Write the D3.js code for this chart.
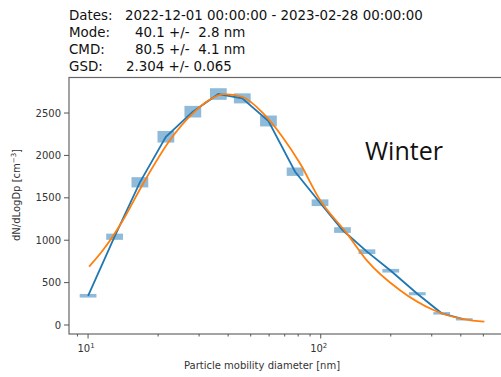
<!DOCTYPE html>
<html>
<head>
<meta charset="utf-8">
<script src="https://cdn.jsdelivr.net/npm/d3@7"></script>
<style>
  body { margin: 0; background: #fff; }
  svg { display: block; font-family: "DejaVu Sans", sans-serif; }
</style>
</head>
<body>
<div id="chart"></div>
<script>
// Measured size distribution (blue) with its spread
var diameters = [10, 13, 16.7, 21.6, 28.2, 36.3, 46, 59.6, 77.6, 99.3, 124, 158, 200, 260, 331, 414];
var counts = [345, 1041, 1683, 2220, 2516, 2724, 2673, 2406, 1808, 1442, 1120, 865, 640, 369, 138, 67];
var spreads = [12, 27, 51, 59, 59, 59, 50, 55, 40, 30, 24, 18, 12, 9, 5, 4];

// Lognormal fit (orange)
var fitDiameters = [10.1, 11.6, 14, 17.3, 22.5, 28.2, 33, 38.5, 45.9, 56.6, 68, 81.4, 99.3, 129.5, 157.4, 218.5, 305, 415, 505];
var fitCounts = [688, 884, 1218, 1675, 2182, 2496, 2650, 2722, 2692, 2496, 2230, 1907, 1474, 1081, 766, 413, 177, 67, 39];

var yTicks = [0, 500, 1000, 1500, 2000, 2500];
var headerLines = [
    ["Dates:", "2022-12-01 00:00:00 - 2023-02-28 00:00:00"],
    ["Mode:", "40.1 +/-  2.8 nm"],
    ["CMD:", "80.5 +/-  4.1 nm"],
    ["GSD:", "2.304 +/- 0.065"]
];
var valueOffsets = [56, 66, 66, 57];

var width = 501;
var height = 377;

// Plot frame (right edge runs past the picture)
var pLeft = 69, pTop = 77.5, pRight = 522, pBottom = 334;

var svg = d3.select("#chart").append("svg")
    .attr("width", width)
    .attr("height", height);

var x = d3.scaleLog()
    .domain([8.28, 10 * Math.pow(10, (pRight - 88) / 232.7)])
    .range([pLeft, pRight]);

var y = d3.scaleLinear()
    .domain([-106, 2919])
    .range([pBottom, pTop]);

// Header lines
headerLines.forEach(function(line, i) {
    var yy = 20 + i * 16.9;
    svg.append("text").attr("x", 69).attr("y", yy)
        .style("font-size", "13.4px").style("fill", "#111")
        .text(line[0]);
    svg.append("text").attr("x", 69 + valueOffsets[i]).attr("y", yy)
        .style("font-size", "13.4px").style("fill", "#111")
        .style("white-space", "pre")
        .text(line[1]);
});

// Spread boxes
var halfW = 0.036; // in decades
svg.selectAll(".box")
    .data(diameters)
    .enter().append("rect")
    .attr("class", "box")
    .attr("x", function(d) { return x(d / Math.pow(10, halfW)); })
    .attr("width", function(d) { return x(d * Math.pow(10, halfW)) - x(d / Math.pow(10, halfW)); })
    .attr("y", function(d, i) { return y(counts[i] + spreads[i]) - 0.8; })
    .attr("height", function(d, i) { return y(counts[i] - spreads[i]) - y(counts[i] + spreads[i]) + 1.6; })
    .style("fill", "#1f77b4")
    .style("opacity", 0.5);

// Measured line
var line = d3.line()
    .x(function(d) { return x(d[0]); })
    .y(function(d) { return y(d[1]); });

svg.append("path")
    .datum(d3.zip(diameters, counts))
    .attr("d", line)
    .style("fill", "none")
    .style("stroke", "#1f77b4")
    .style("stroke-width", 1.8);

// Fit line
svg.append("path")
    .datum(d3.zip(fitDiameters, fitCounts))
    .attr("d", line.curve(d3.curveMonotoneX))
    .style("fill", "none")
    .style("stroke", "#ff7f0e")
    .style("stroke-width", 1.8);

// Frame
svg.append("rect")
    .attr("x", pLeft).attr("y", pTop)
    .attr("width", pRight - pLeft).attr("height", pBottom - pTop)
    .style("fill", "none")
    .style("stroke", "#666")
    .style("stroke-width", 1.2);

// Y axis
var yAxis = svg.append("g");
yTicks.forEach(function(t) {
    yAxis.append("line")
        .attr("x1", pLeft - 5).attr("x2", pLeft)
        .attr("y1", y(t)).attr("y2", y(t))
        .style("stroke", "#555");
    yAxis.append("text")
        .attr("x", pLeft - 8).attr("y", y(t) + 3.6)
        .attr("text-anchor", "end")
        .style("font-size", "10px").style("fill", "#333")
        .text(t);
});

// X axis: major and minor log ticks
var minors = [9, 20, 30, 40, 50, 60, 70, 80, 90, 200, 300, 400, 500, 600, 700];
minors.forEach(function(t) {
    svg.append("line")
        .attr("x1", x(t)).attr("x2", x(t))
        .attr("y1", pBottom).attr("y2", pBottom + 2.5)
        .style("stroke", "#555");
});
[10, 100].forEach(function(t, i) {
    svg.append("line")
        .attr("x1", x(t)).attr("x2", x(t))
        .attr("y1", pBottom).attr("y2", pBottom + 4.5)
        .style("stroke", "#555");
    var lab = svg.append("text")
        .attr("x", x(t) - 2).attr("y", pBottom + 18)
        .attr("text-anchor", "middle")
        .style("font-size", "10px").style("fill", "#333")
        .text("10");
    lab.append("tspan")
        .attr("dy", -4).style("font-size", "7px")
        .text(i + 1);
});

// Axis labels
svg.append("text")
    .attr("x", 262).attr("y", 369)
    .attr("text-anchor", "middle")
    .style("font-size", "10px").style("fill", "#333")
    .text("Particle mobility diameter [nm]");

var yl = svg.append("text")
    .attr("transform", "translate(20,195) rotate(-90)")
    .attr("text-anchor", "middle")
    .style("font-size", "10px").style("fill", "#333")
    .text("dN/dLogDp [cm");
yl.append("tspan").attr("dy", -4).style("font-size", "7px").text("\u22123");
yl.append("tspan").attr("dy", 4).text("]");

// Season label
svg.append("text")
    .attr("x", 365).attr("y", 160)
    .style("font-family", "'Open Sans', sans-serif")
    .style("font-size", "25px").style("fill", "#111")
    .text("Winter");
</script>
</body>
</html>
